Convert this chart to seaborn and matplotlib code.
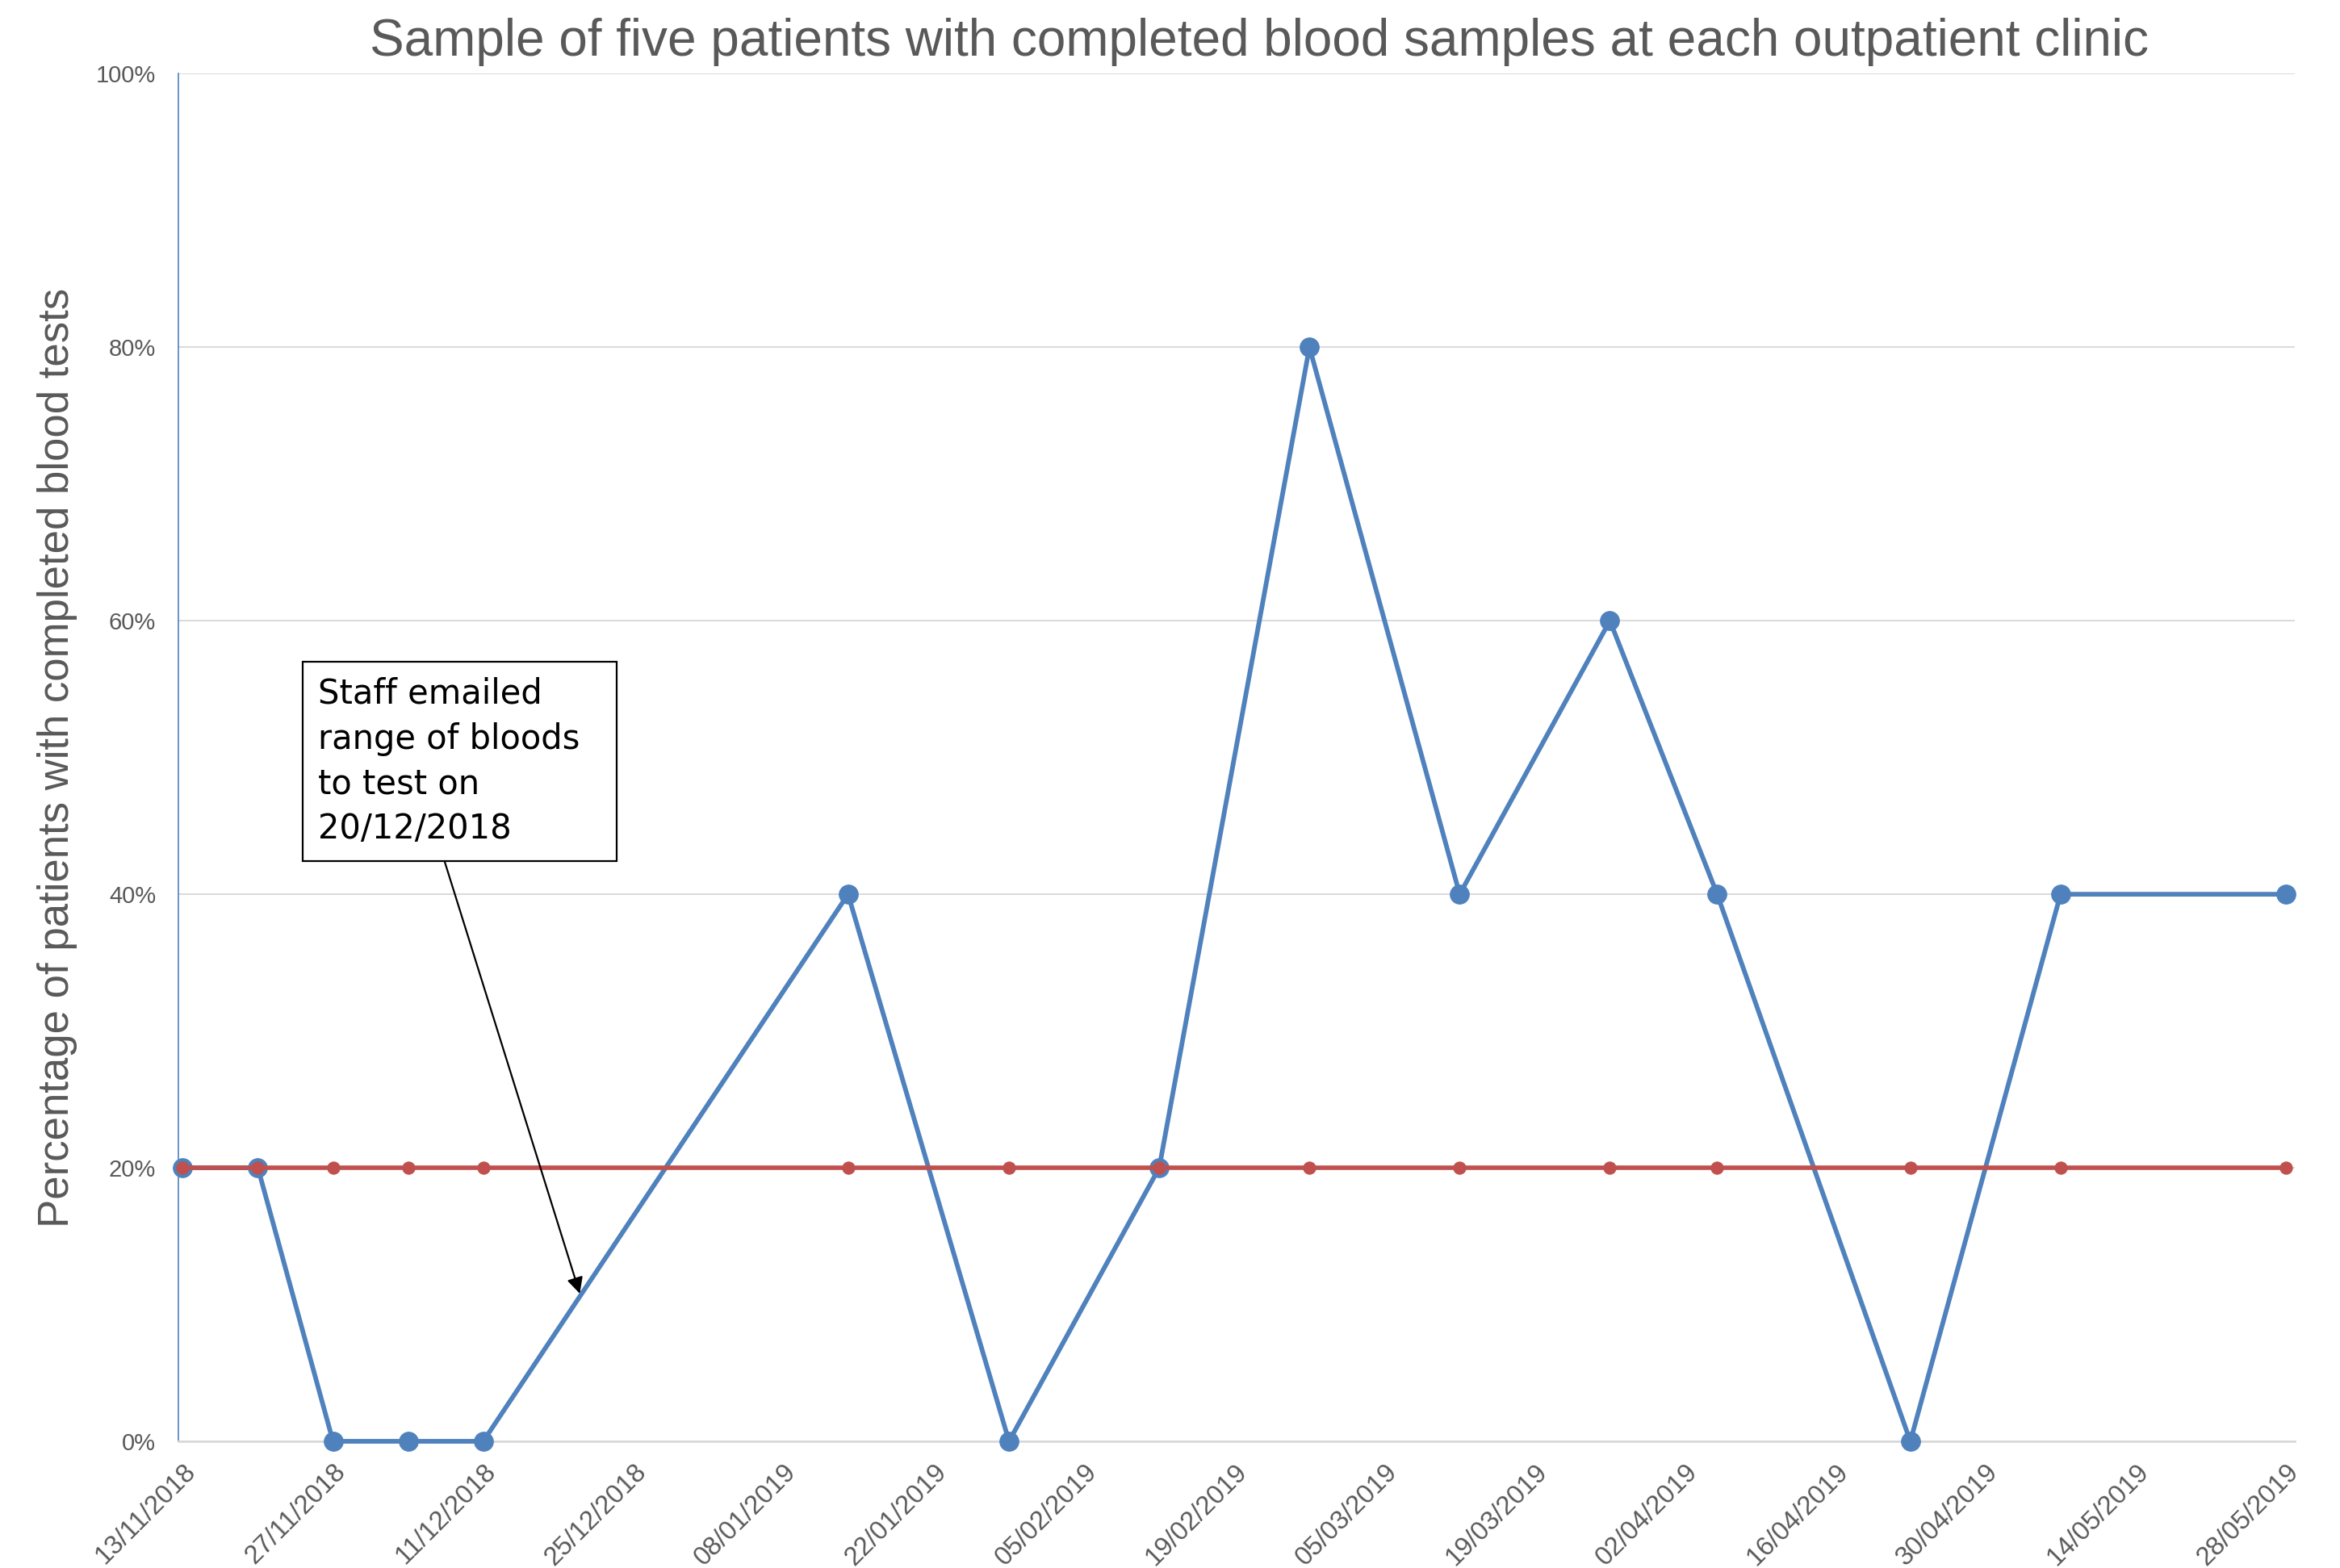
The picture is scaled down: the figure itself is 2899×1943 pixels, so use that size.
import numpy as np
import pandas as pd
import matplotlib
matplotlib.use("Agg")
import matplotlib.pyplot as plt
import matplotlib.dates as mdates
import seaborn as sns

# ----------------------------------------------------------------------
# DATA
# ----------------------------------------------------------------------
clinic_dates = [
    "2018-11-13", "2018-11-20", "2018-11-27", "2018-12-04", "2018-12-11",
    "2019-01-14", "2019-01-29", "2019-02-12", "2019-02-26", "2019-03-12",
    "2019-03-26", "2019-04-05", "2019-04-23", "2019-05-07", "2019-05-28",
]
pct_completed = [20, 20, 0, 0, 0, 40, 0, 20, 80, 40, 60, 40, 0, 40, 40]
baseline_pct = [20] * len(clinic_dates)

axis_start = "2018-11-13"
axis_end = "2019-05-28"
tick_step_days = 14

# trailing spaces widen the box like the original text box
note_text = "Staff emailed\nrange of bloods  \nto test on\n20/12/2018"
note_date = "2018-12-20"
note_value = 10.8

BLUE = "#4F81BD"
RED = "#C0504D"
GREY_TEXT = "#595959"

df = pd.DataFrame({
    "date": pd.to_datetime(clinic_dates),
    "pct": pct_completed,
    "baseline": baseline_pct,
})

# ----------------------------------------------------------------------
# PLOT
# ----------------------------------------------------------------------
sns.set_style("white")
plt.rcParams["font.family"] = ["Liberation Sans", "DejaVu Sans"]

fig = plt.figure(figsize=(28.99, 19.43), dpi=100)
ax = fig.add_axes([0.0762, 0.0808, 0.9045, 0.8722])

sns.lineplot(data=df, x="date", y="pct", ax=ax, color=BLUE, lw=4.2,
             marker="o", markersize=17, markeredgecolor=BLUE, clip_on=False, zorder=3)
sns.lineplot(data=df, x="date", y="baseline", ax=ax, color=RED, lw=4.0,
             marker="o", markersize=11, markeredgecolor=RED, clip_on=False, zorder=4)

start = pd.Timestamp(axis_start)
end = pd.Timestamp(axis_end)
ax.set_xlim(start - pd.Timedelta(hours=10), end + pd.Timedelta(hours=20))
ax.set_ylim(0, 100)

ticks = pd.date_range(start, end, freq=f"{tick_step_days}D")
ax.set_xticks(ticks)
ax.xaxis.set_major_formatter(mdates.DateFormatter("%d/%m/%Y"))
plt.setp(ax.get_xticklabels(), rotation=45, ha="right", rotation_mode="anchor")

ax.set_yticks(np.arange(0, 101, 20))
ax.set_yticklabels([f"{v}%" for v in range(0, 101, 20)])

ax.tick_params(axis="x", labelsize=23.5, colors=GREY_TEXT, length=10, width=1.2,
               color="#D9D9D9", pad=6)
ax.tick_params(axis="y", labelsize=21, colors=GREY_TEXT, length=0, pad=20)

ax.grid(axis="y", color="#D9D9D9", lw=1.4)
ax.set_axisbelow(True)
for s in ["top", "right"]:
    ax.spines[s].set_visible(False)
ax.spines["left"].set_color(BLUE)
ax.spines["left"].set_linewidth(1.2)
ax.spines["bottom"].set_color("#D9D9D9")
ax.spines["bottom"].set_linewidth(2)

ax.set_xlabel("")
ax.set_ylabel("Percentage of patients with completed blood tests",
              fontsize=38, color=GREY_TEXT)
ax.yaxis.set_label_coords(-0.0476, 0.5)

fig.text(0.538, 0.973, "Sample of five patients with completed blood samples at each outpatient clinic",
         ha="center", va="center", fontsize=46, color=GREY_TEXT)

ax.annotate(note_text, xy=(pd.Timestamp(note_date), note_value),
            xytext=(start + pd.Timedelta(days=12.6), 55.9),
            ha="left", va="top", fontsize=30, family="DejaVu Sans",
            linespacing=1.42, color="black",
            bbox=dict(boxstyle="square,pad=0.45", fc="white", ec="black", lw=1.6),
            arrowprops=dict(arrowstyle="-|>", color="black", lw=1.6,
                            mutation_scale=30, relpos=(0.43, 0), shrinkA=0, shrinkB=0),
            zorder=5)

plt.savefig("out.png", dpi=100)
plt.close()
